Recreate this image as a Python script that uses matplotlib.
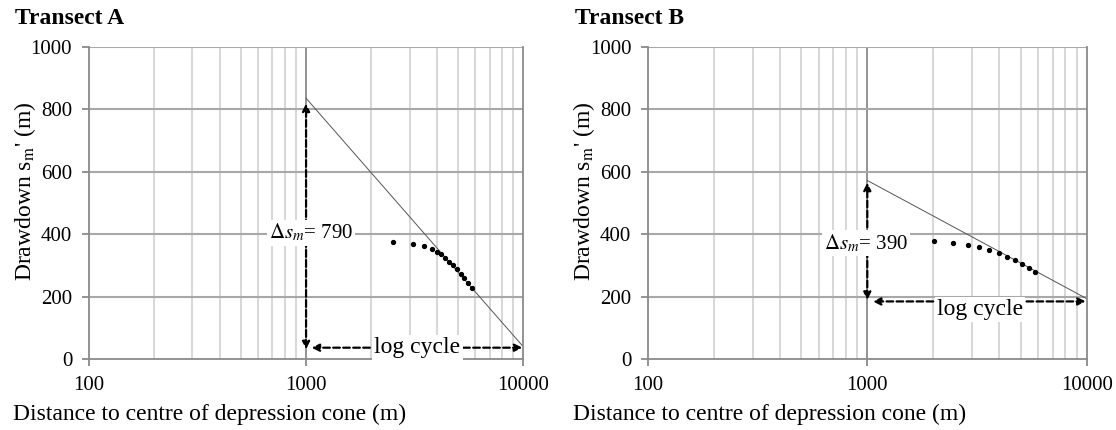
import matplotlib.pyplot as plt
import numpy as np

plt.rcParams['font.family'] = ['Liberation Serif', 'DejaVu Serif']
plt.rcParams['mathtext.fontset'] = 'stix'

# Transect A data (distance m, drawdown m)
dist_a = [2512, 3117, 3487, 3795, 4002, 4176, 4375, 4564, 4761, 4968, 5145, 5351, 5557, 5778]
draw_a = [376, 370, 363, 354, 344, 336, 325, 312, 301, 288, 274, 260, 245, 228]
fit_a_x = [1000, 10000]
fit_a_y = [835, 40]

# Transect B data
dist_b = [2009, 2468, 2870, 3230, 3600, 3973, 4322, 4716, 5074, 5461, 5835]
draw_b = [379, 373, 366, 358, 348, 339, 328, 316, 305, 292, 278]
fit_b_x = [1000, 10000]
fit_b_y = [572, 194]

titles = ['Transect A', 'Transect B']
delta_labels = ['$\\Delta s_m$= 790', '$\\Delta s_m$= 390']

fig = plt.figure(figsize=(11.16, 4.3), dpi=100)
ax_a = fig.add_axes([0.0796, 0.1645, 0.3893, 0.727])
ax_b = fig.add_axes([0.5806, 0.1645, 0.3931, 0.727])

minor_x = [v * m for v in (100, 1000) for m in range(2, 10)]

for ax in (ax_a, ax_b):
    ax.set_xscale('log')
    ax.set_xlim(100, 10000)
    ax.set_ylim(0, 1000)
    ax.set_xticks([100, 1000, 10000])
    ax.set_xticklabels(['100', '1000', '10000'])
    ax.set_xticks([], minor=True)
    ax.set_yticks(np.arange(0, 1001, 200))
    for v in minor_x:
        ax.axvline(v, color='#d4d4d4', lw=1.3, zorder=0)
    ax.axvline(1000, color='#8a8a8a', lw=1.3, zorder=0.5)
    for v in range(200, 1001, 200):
        ax.axhline(v, color='#a8a8a8', lw=1.5, zorder=0.5)
    for s in ['left', 'bottom', 'right']:
        ax.spines[s].set_color('#8a8a8a')
        ax.spines[s].set_linewidth(1.3)
    ax.spines['top'].set_visible(False)
    ax.tick_params(axis='both', direction='out', length=5, width=1.3, color='#8a8a8a',
                   labelsize=15, pad=7)

ax_a.plot(fit_a_x, fit_a_y, color='#555555', lw=0.7, zorder=2)
ax_a.plot(dist_a, draw_a, 'o', color='black', ms=2.8, zorder=3)
ax_b.plot(fit_b_x, fit_b_y, color='#555555', lw=0.7, zorder=2)
ax_b.plot(dist_b, draw_b, 'o', color='black', ms=2.8, zorder=3)

arrow = dict(arrowstyle='<|-|>', ls=(0, (3, 1.5)), lw=1.6, color='black',
             mutation_scale=11, shrinkA=0, shrinkB=0)
txt_box = dict(fc='white', ec='none', pad=1.5)

# Transect A annotations
ax_a.annotate('', xy=(1000, 818), xytext=(1000, 32), arrowprops=arrow, zorder=4)
ax_a.annotate('', xy=(1060, 37), xytext=(9900, 37), arrowprops=arrow, zorder=4)
ax_a.text(1050, 405, delta_labels[0], fontsize=15, ha='center', va='center',
          bbox=txt_box, zorder=5)
ax_a.text(3260, 37, 'log cycle', fontsize=17, ha='center', va='center',
          bbox=txt_box, zorder=5)

# Transect B annotations
ax_b.annotate('', xy=(1000, 565), xytext=(1000, 190), arrowprops=arrow, zorder=4)
ax_b.annotate('', xy=(1060, 185), xytext=(9900, 185), arrowprops=arrow, zorder=4)
ax_b.text(985, 372, delta_labels[1], fontsize=15, ha='center', va='center',
          bbox=txt_box, zorder=5)
ax_b.text(3270, 160, 'log cycle', fontsize=17, ha='center', va='center',
          bbox=txt_box, zorder=5)

fig.text(0.0135, 0.958, titles[0], fontsize=17, fontweight='bold', va='center', ha='left')
fig.text(0.5150, 0.958, titles[1], fontsize=17, fontweight='bold', va='center', ha='left')
for x in (0.188, 0.690):
    fig.text(x, 0.037, 'Distance to centre of depression cone (m)', fontsize=17,
             ha='center', va='center')
for x in (0.022, 0.523):
    fig.text(x, 0.556, "Drawdown s$_\\mathrm{m}$' (m)", fontsize=17, rotation=90,
             ha='center', va='center')

fig.savefig('out.png', dpi=100)
